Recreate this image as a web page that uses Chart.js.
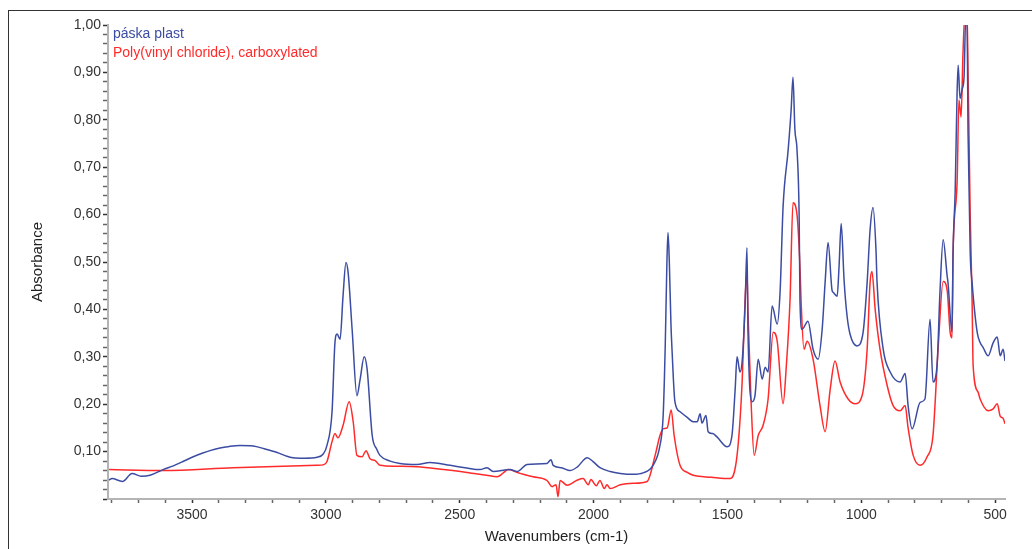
<!DOCTYPE html>
<html>
<head>
<meta charset="utf-8">
<script src="https://cdn.jsdelivr.net/npm/chart.js@4.4.0/dist/chart.umd.min.js"></script>
<style>
  body { margin: 0; background: #fff; }
  #wrap { position: relative; width: 1032px; height: 549px; }
  #frame { position: absolute; left: 8px; top: 10px; right: 0; bottom: 0;
           border-left: 1.5px solid #333; border-top: 1.5px solid #333; }
  canvas { position: absolute; left: 0; top: 0; }
</style>
</head>
<body>
<div id="wrap">
  <div id="frame"></div>
  <canvas id="chart" width="1032" height="549"></canvas>
</div>
<script>
// páska plast (blue)
const blueWn = [3810, 3799, 3760, 3724, 3690, 3657, 3608, 3570, 3534, 3500, 3460, 3433, 3400, 3360, 3321, 3272,
  3230, 3182, 3150, 3123, 3080, 3033, 3010, 2996,
  2977, 2966, 2958, 2947, 2936, 2925, 2917, 2902, 2884, 2872, 2857, 2846, 2827, 2810, 2798, 2760, 2723, 2660, 2611, 2536,
  2480, 2424, 2398, 2375, 2312, 2286, 2248, 2174, 2159, 2151, 2120, 2088, 2060, 2024, 2002, 1976, 1938, 1900, 1852, 1815, 1778,
  1752, 1740, 1732, 1726, 1722, 1717, 1711, 1707, 1696, 1677, 1650, 1628, 1613, 1602, 1595, 1580, 1572, 1555, 1539,
  1501, 1483, 1471, 1464, 1453, 1445, 1434, 1427, 1423, 1408, 1397, 1385, 1370, 1359, 1348, 1333, 1314,
  1303, 1292, 1273, 1262, 1255, 1248, 1240, 1232, 1229, 1221, 1199, 1180, 1161, 1146, 1135, 1124, 1109,
  1105, 1090, 1083, 1075, 1064, 1053, 1042, 1016, 993, 978, 967, 956, 945, 941, 918, 892, 855, 836, 825,
  810, 780, 762, 743, 732, 717, 706, 694, 679, 676, 661, 657, 649, 642, 638, 631, 623, 616, 610, 605, 601,
  593, 586, 567, 556, 545, 526, 507, 492, 481, 470, 463];
const blueAbs = [0.040, 0.043, 0.037, 0.054, 0.048, 0.050, 0.062, 0.070, 0.079, 0.088, 0.097, 0.102, 0.107, 0.111, 0.113, 0.112,
  0.106, 0.098, 0.091, 0.087, 0.086, 0.088, 0.095, 0.113,
  0.184, 0.331, 0.348, 0.337, 0.428, 0.499, 0.478, 0.358, 0.218, 0.253, 0.300, 0.274, 0.134, 0.105, 0.092, 0.080, 0.075, 0.073, 0.077, 0.071,
  0.066, 0.062, 0.066, 0.058, 0.062, 0.058, 0.073, 0.075, 0.083, 0.071, 0.066, 0.060, 0.068, 0.087, 0.079, 0.066, 0.058, 0.054, 0.052, 0.055, 0.071,
  0.113, 0.176, 0.330, 0.500, 0.562, 0.500, 0.370, 0.316, 0.205, 0.184, 0.172, 0.163, 0.163, 0.180, 0.160, 0.176, 0.142, 0.138, 0.131,
  0.110, 0.134, 0.232, 0.300, 0.268, 0.290, 0.407, 0.530, 0.350, 0.205, 0.218, 0.295, 0.253, 0.278, 0.268, 0.407, 0.369,
  0.440, 0.617, 0.737, 0.820, 0.890, 0.780, 0.737, 0.596, 0.421, 0.358, 0.375, 0.316, 0.295, 0.358, 0.457, 0.541, 0.440,
  0.436, 0.428, 0.490, 0.581, 0.460, 0.386, 0.348, 0.323, 0.352, 0.457, 0.568, 0.615, 0.526, 0.457, 0.316, 0.268, 0.247, 0.265, 0.197,
  0.148, 0.204, 0.211, 0.379, 0.247, 0.281, 0.436, 0.547, 0.470, 0.457, 0.352, 0.520, 0.652, 0.857, 0.915, 0.845, 0.865, 0.890, 1.010, 1.010, 0.772,
  0.520, 0.457, 0.352, 0.330, 0.320, 0.302, 0.330, 0.342, 0.302, 0.316, 0.291];

// Poly(vinyl chloride), carboxylated (red)
const redWn = [3810, 3608, 3347, 3033, 3010, 2996, 2977, 2966, 2955, 2936, 2913, 2898, 2884, 2865, 2850, 2835, 2816,
  2798, 2740, 2659, 2560, 2473, 2400, 2360, 2331, 2319, 2275, 2226, 2174, 2155, 2140, 2133, 2125, 2099, 2060, 2039, 2020, 2010, 1990, 1976,
  1960, 1950, 1938, 1900, 1852, 1800, 1770, 1752, 1740, 1725, 1710, 1699, 1677, 1650, 1628, 1560, 1490, 1464, 1445, 1434, 1427,
  1423, 1412, 1400, 1385, 1367, 1348, 1329, 1314, 1292, 1280, 1266, 1255, 1240, 1229, 1225, 1214, 1202, 1180,
  1154, 1135, 1116, 1098, 1079, 1049, 1023, 997, 978, 967, 960, 948, 930, 903, 881, 855, 836, 825, 806, 780,
  754, 732, 713, 694, 679, 668, 661, 657, 642, 635, 627, 620, 612, 605, 601, 593, 586, 582, 564, 556, 526,
  507, 492, 481, 470, 463];
const redAbs = [0.062, 0.060, 0.066, 0.071, 0.072, 0.079, 0.121, 0.138, 0.129, 0.155, 0.205, 0.163, 0.092, 0.089, 0.102, 0.085, 0.081,
  0.071, 0.069, 0.068, 0.062, 0.056, 0.050, 0.047, 0.058, 0.062, 0.054, 0.047, 0.039, 0.026, 0.030, 0.005, 0.039, 0.029, 0.040, 0.043, 0.030, 0.041, 0.028, 0.039,
  0.022, 0.030, 0.022, 0.030, 0.033, 0.037, 0.092, 0.134, 0.148, 0.150, 0.188, 0.134, 0.071, 0.056, 0.050, 0.046, 0.043, 0.092, 0.247, 0.421, 0.480,
  0.390, 0.211, 0.092, 0.134, 0.155, 0.211, 0.352, 0.333, 0.201, 0.280, 0.421, 0.625, 0.600, 0.491, 0.421, 0.316, 0.333, 0.295,
  0.197, 0.142, 0.232, 0.291, 0.247, 0.211, 0.201, 0.218, 0.316, 0.457, 0.480, 0.400, 0.316, 0.239, 0.197, 0.186, 0.197, 0.150, 0.092, 0.071,
  0.089, 0.134, 0.316, 0.459, 0.440, 0.352, 0.340, 0.520, 0.667, 0.842, 0.806, 0.940, 1.030, 1.030, 0.900, 0.600, 0.421, 0.281, 0.226, 0.211, 0.186,
  0.190, 0.201, 0.175, 0.170, 0.159];

const seriesNames = ["páska plast", "Poly(vinyl chloride), carboxylated"];
const seriesColors = ["#3b4ca2", "#ff2a2a"];

const toPts = (xs, ys) => xs.map((x, i) => ({ x: x, y: ys[i] }));

// series names written in the top left corner of the plot
const nameLabels = {
  id: "nameLabels",
  afterDraw(chart) {
    const { ctx, chartArea } = chart;
    ctx.save();
    ctx.font = "14px 'Liberation Sans', Arial, sans-serif";
    ctx.textBaseline = "middle";
    seriesNames.forEach((name, i) => {
      ctx.fillStyle = seriesColors[i];
      ctx.fillText(name, chartArea.left + 5, chartArea.top + 9 + i * 19);
    });
    ctx.restore();
  }
};

const isMult = (v, step) => Math.abs(v / step - Math.round(v / step)) < 1e-6;

new Chart(document.getElementById("chart"), {
  type: "scatter",
  data: {
    datasets: [
      { label: seriesNames[0], data: toPts(blueWn, blueAbs), borderColor: seriesColors[0] },
      { label: seriesNames[1], data: toPts(redWn, redAbs), borderColor: seriesColors[1] }
    ].map(d => Object.assign(d, { showLine: true, pointRadius: 0, borderWidth: 1.5, cubicInterpolationMode: "monotone" }))
  },
  options: {
    responsive: false,
    animation: false,
    layout: { padding: { left: 0, top: 25, right: 27, bottom: 0 } },
    plugins: { legend: { display: false }, tooltip: { enabled: false } },
    scales: {
      x: {
        type: "linear",
        reverse: true,
        min: 463,
        max: 3814,
        afterFit: s => { s.height = 50; },
        border: { color: "#b4b4b4", width: 2 },
        grid: { drawOnChartArea: false, tickLength: 4, tickWidth: 1.5,
                tickColor: c => isMult(c.tick.value, 500) ? "#333" : "#666" },
        ticks: {
          stepSize: 100, autoSkip: false, maxTicksLimit: 100, includeBounds: false, maxRotation: 0,
          padding: 4, color: "#333",
          font: { family: "'Liberation Sans', Arial, sans-serif", size: 14 },
          callback: v => isMult(v, 500) ? String(v) : ""
        },
        title: { display: true, text: "Wavenumbers (cm-1)", color: "#222",
                 font: { family: "'Liberation Sans', Arial, sans-serif", size: 15 },
                 padding: { top: 0, bottom: 3 } }
      },
      y: {
        min: 0,
        max: 1,
        afterFit: s => { s.width = 108; },
        border: { color: "#b4b4b4", width: 2 },
        grid: { drawOnChartArea: false, tickLength: 5, tickWidth: 1.5,
                tickColor: c => isMult(c.tick.value, 0.1) ? "#333" : "#666" },
        ticks: {
          stepSize: 0.02, autoSkip: false, maxTicksLimit: 100, padding: 2, color: "#333",
          font: { family: "'Liberation Sans', Arial, sans-serif", size: 14 },
          callback: v => (v > 0.001 && isMult(v, 0.1)) ? v.toFixed(2).replace(".", ",") : ""
        },
        title: { display: true, text: "Absorbance", color: "#222",
                 font: { family: "'Liberation Sans', Arial, sans-serif", size: 15 },
                 padding: { top: 29, bottom: 0 } }
      }
    }
  },
  plugins: [nameLabels]
});
</script>
</body>
</html>
